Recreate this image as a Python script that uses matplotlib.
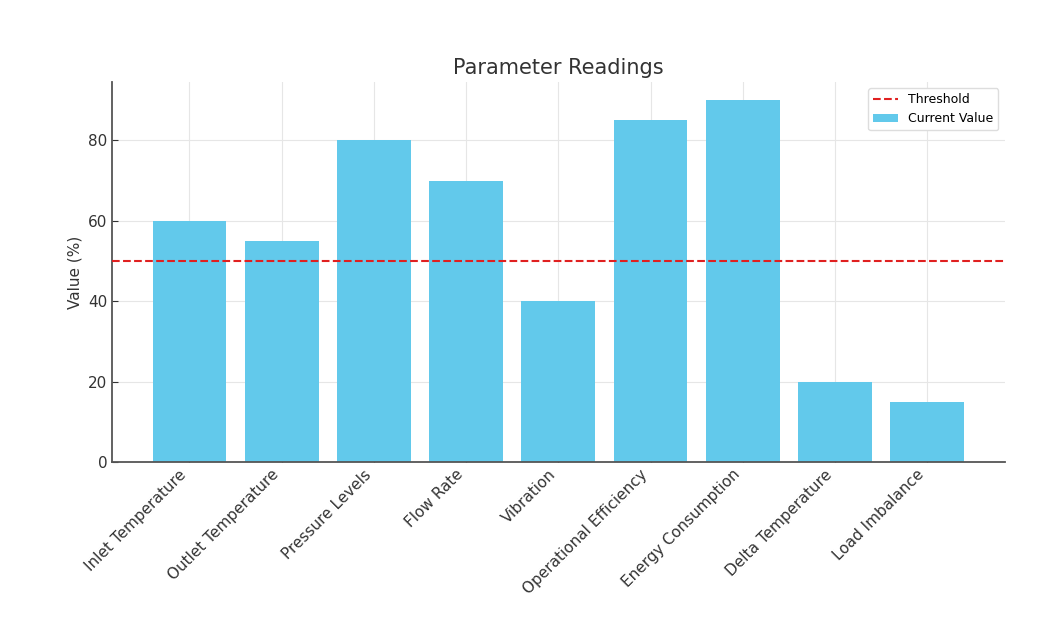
import numpy as np
import matplotlib
matplotlib.use("Agg")
import matplotlib.pyplot as plt

parameters = ['Inlet Temperature', 'Outlet Temperature', 'Pressure Levels', 'Flow Rate',
              'Vibration', 'Operational Efficiency', 'Energy Consumption',
              'Delta Temperature', 'Load Imbalance']
current_values = [60, 55, 80, 70, 40, 85, 90, 20, 15]
threshold = 50

fig = plt.figure(figsize=(10.49, 6.21), dpi=100)
ax = fig.add_axes([0.1068, 0.256, 0.851, 0.612])

x = np.arange(len(parameters))
ax.axhline(threshold, color='#e02020', linestyle='--', linewidth=1.5, label='Threshold', zorder=3)
ax.bar(x, current_values, width=0.8, color='#62c9eb', label='Current Value', zorder=2)

ax.set_xticks(x)
ax.set_xticklabels(parameters, rotation=45, ha='right', fontsize=11, color='#333333')
ax.set_yticks([0, 20, 40, 60, 80])
ax.tick_params(axis='y', labelsize=11, colors='#333333', direction='in', length=4)
ax.tick_params(axis='x', colors='#333333', direction='in', length=4)
ax.set_ylabel('Value (%)', fontsize=11, color='#333333')
ax.set_title('Parameter Readings', fontsize=15, color='#333333')

ax.grid(True, color='#e6e6e6', linewidth=0.8, zorder=0)
ax.set_axisbelow(True)
for s in ['top', 'right']:
    ax.spines[s].set_visible(False)
for s in ['left', 'bottom']:
    ax.spines[s].set_color('#555555')
    ax.spines[s].set_linewidth(1.3)

ax.legend(loc='upper right', fontsize=9, framealpha=1, edgecolor='#dddddd')

fig.savefig('out.png', dpi=100)
